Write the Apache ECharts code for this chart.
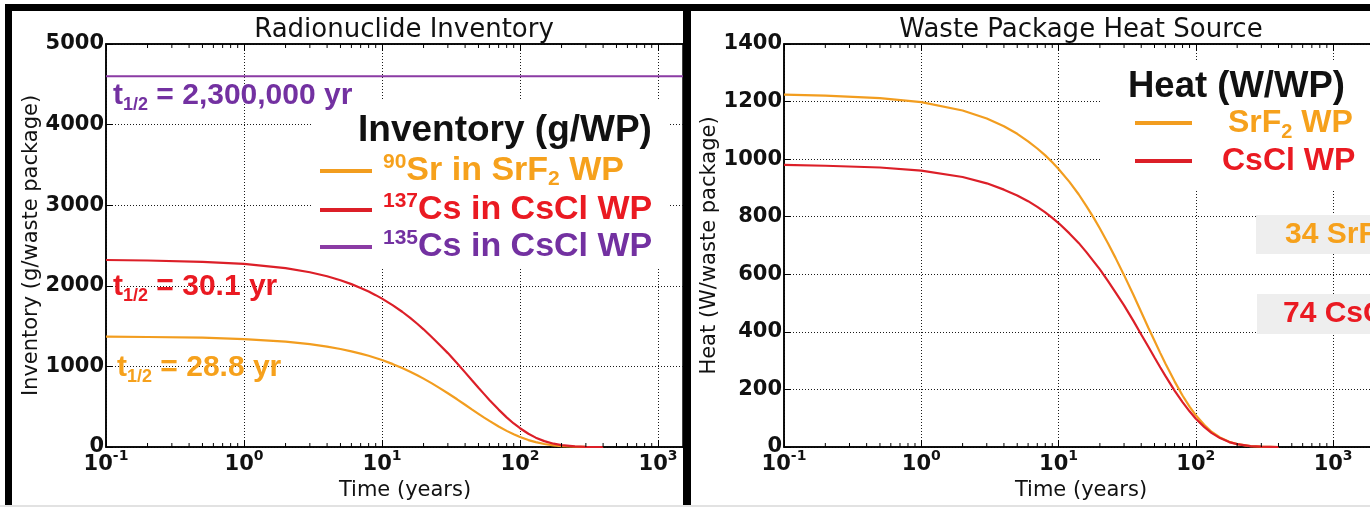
<!DOCTYPE html>
<html>
<head>
<meta charset="utf-8">
<script src="https://cdn.jsdelivr.net/npm/echarts@6/dist/echarts.min.js"></script>
<style>
  html, body { margin: 0; padding: 0; overflow: hidden; background: #fff; width: 1370px; height: 508px; }
  #chart { width: 1400px; height: 508px; }
</style>
</head>
<body>
<div id="chart"></div>
<script>
// Sample times (years) shared by the decay curves
const years = [0.1, 0.2, 0.5, 1, 2, 3, 4, 5, 6, 7, 8, 9, 10, 12, 14, 16, 18, 20, 23, 26, 30, 35, 40, 45, 50, 55, 60, 70, 80, 90, 100, 115, 130, 150, 175, 200, 250, 300, 400];
// Radionuclide inventory, g per waste package
const sr90Inventory  = [1369, 1365, 1356, 1339, 1307, 1276, 1246, 1216, 1187, 1159, 1132, 1105, 1079, 1028, 980, 934, 890, 848, 789, 734, 667, 592, 524, 464, 412, 365, 324, 254, 200, 157, 123, 86, 60, 37, 21, 11, 3, 1, 0];
const cs137Inventory = [2320, 2314, 2298, 2272, 2219, 2168, 2118, 2069, 2021, 1974, 1929, 1884, 1841, 1757, 1678, 1601, 1529, 1460, 1362, 1272, 1165, 1039, 926, 825, 735, 656, 584, 464, 368, 292, 233, 164, 116, 73, 41, 23, 7, 2, 0];
const cs135Years     = [0.1, 1, 10, 100, 1000, 3000];
const cs135Inventory = [4600, 4600, 4600, 4600, 4600, 4600];
// Heat source, W per waste package
const srf2Heat = [1224, 1221, 1212, 1198, 1169, 1141, 1114, 1088, 1062, 1037, 1013, 989, 966, 921, 878, 836, 797, 759, 706, 657, 597, 530, 469, 415, 369, 327, 290, 228, 179, 140, 110, 77, 53, 33, 18, 10, 3, 1, 0];
const csclHeat = [980, 977, 971, 960, 938, 916, 894, 874, 854, 834, 815, 796, 778, 742, 709, 676, 645, 617, 575, 537, 492, 439, 391, 349, 311, 277, 247, 196, 156, 124, 98, 70, 49, 31, 17, 10, 3, 1, 0];
// Axis ticks
const decadeExponents = [-1, 0, 1, 2, 3];
const minorTickYears = [0.2, 0.3, 0.4, 0.5, 0.6, 0.7, 0.8, 0.9, 2, 3, 4, 5, 6, 7, 8, 9,
  20, 30, 40, 50, 60, 70, 80, 90, 200, 300, 400, 500, 600, 700, 800, 900, 2000];
const inventoryTicks = { min: 0, max: 5000, step: 1000 };
const heatTicks = { min: 0, max: 1400, step: 200 };

const ORANGE = '#f29d1f', RED = '#dc1f28', PURPLE = '#8b3ba4';
const ORANGE_T = '#f6a11c', RED_T = '#ea1a22', PURPLE_T = '#7331a1';
const SANS = 'Liberation Sans, Arial, sans-serif';
const MPL = 'DejaVu Sans, sans-serif';

const zip = (xs, ys) => xs.map((x, i) => [x, ys[i]]);

function decadeLabel(v) {
  const lg = Math.log10(v);
  const e = Math.round(lg);
  if (Math.abs(lg - e) > 1e-6 || decadeExponents.indexOf(e) < 0) return '';
  return '{b|10}{e|' + e + '}';
}

function bottomAxis(gridIndex, max, namePad) {
  return {
    type: 'log', logBase: 10, gridIndex, min: 0.1, max,
    name: 'Time (years)', nameLocation: 'middle', nameGap: 33,
    nameTextStyle: { fontFamily: MPL, fontSize: 21, color: '#111', padding: [0, 0, 0, namePad] },
    axisLine: { show: true, onZero: false, lineStyle: { color: '#000', width: 1.5 } },
    axisTick: { show: true, inside: true, length: 7, lineStyle: { color: '#000', width: 1 } },
    axisLabel: {
      margin: 2, formatter: decadeLabel, showMaxLabel: false,
      rich: {
        b: { fontFamily: MPL, fontWeight: 'bold', fontSize: 21, lineHeight: 32, color: '#111' },
        e: { fontFamily: MPL, fontWeight: 'bold', fontSize: 14, lineHeight: 12, verticalAlign: 'top', color: '#111' }
      }
    },
    splitLine: { show: true, lineStyle: { color: '#1a1a1a', type: [1, 2], width: 1 } }
  };
}

function topAxis(gridIndex, max) {
  return {
    type: 'log', logBase: 10, gridIndex, min: 0.1, max, position: 'top',
    axisLine: { show: true, onZero: false, lineStyle: { color: '#000', width: 1.5 } },
    axisTick: { show: true, inside: true, length: 7, lineStyle: { color: '#000', width: 1 } },
    axisLabel: { show: false },
    splitLine: { show: false }
  };
}

function valueAxis(gridIndex, ticks, name, gap) {
  return {
    type: 'value', gridIndex, min: ticks.min, max: ticks.max, interval: ticks.step,
    name, nameLocation: 'middle', nameGap: gap, nameRotate: 90,
    nameTextStyle: { fontFamily: MPL, fontSize: 21, color: '#111' },
    axisLine: { show: true, lineStyle: { color: '#000', width: 1.5 } },
    axisTick: { show: true, inside: true, length: 7, lineStyle: { color: '#000', width: 1 } },
    axisLabel: { margin: 2, fontFamily: MPL, fontWeight: 'bold', fontSize: 21, color: '#111', formatter: v => String(v) },
    splitLine: { show: true, lineStyle: { color: '#1a1a1a', type: [1, 2], width: 1 } }
  };
}

function curve(name, xAxisIndex, yAxisIndex, data, color) {
  return {
    name, type: 'line', xAxisIndex, yAxisIndex, data,
    symbol: 'none', showSymbol: false, smooth: false, clip: true,
    lineStyle: { color, width: 2.2 }, itemStyle: { color }, z: 2, silent: true
  };
}

function minorTicks(xAxisIndex, yAxisIndex) {
  return {
    type: 'custom', xAxisIndex, yAxisIndex, silent: true, z: 3, clip: true,
    data: minorTickYears.map(v => [v, 0]),
    renderItem(params, api) {
      const x = api.coord([api.value(0), 0])[0];
      const cs = params.coordSys;
      const st = { stroke: '#000', lineWidth: 1 };
      return {
        type: 'group', children: [
          { type: 'line', shape: { x1: x, y1: cs.y + cs.height, x2: x, y2: cs.y + cs.height - 4 }, style: st },
          { type: 'line', shape: { x1: x, y1: cs.y, x2: x, y2: cs.y + 4 }, style: st }
        ]
      };
    }
  };
}

function richSet(prefix, color, main, small) {
  const o = {};
  o[prefix + 'm'] = { fontFamily: SANS, fontWeight: 'bold', fontSize: main, lineHeight: 38, color };
  o[prefix + 'sup'] = { fontFamily: SANS, fontWeight: 'bold', fontSize: small, lineHeight: 19, verticalAlign: 'top', color };
  o[prefix + 'sub'] = { fontFamily: SANS, fontWeight: 'bold', fontSize: small, lineHeight: 19, verticalAlign: 'bottom', color };
  return o;
}

const inventoryLegendText = {
  '90Sr in SrF2 WP': '{g|}{osup|90}{om|Sr in SrF}{osub|2}{om| WP}',
  '137Cs in CsCl WP': '{g|}{rsup|137}{rm|Cs in CsCl WP}',
  '135Cs in CsCl WP': '{g|}{psup|135}{pm|Cs in CsCl WP}'
};
const heatLegendText = {
  'SrF2 WP': '{g1|}{om|SrF}{osub|2}{om| WP}',
  'CsCl WP': '{g2|}{rm|CsCl WP}'
};

function halfLife(color, rest) {
  return {
    text: '{t|t}{s|1/2}{t|' + rest + '}',
    rich: {
      t: { fontFamily: SANS, fontWeight: 'bold', fontSize: 30, lineHeight: 36, fill: color },
      s: { fontFamily: SANS, fontWeight: 'bold', fontSize: 18, lineHeight: 19, verticalAlign: 'bottom', fill: color }
    },
    fill: color, align: 'left', verticalAlign: 'middle'
  };
}

const chart = echarts.init(document.getElementById('chart'), null, { renderer: 'canvas' });

chart.setOption({
  animation: false,
  backgroundColor: '#ffffff',
  grid: [
    { left: 106, right: 1400 - 683, top: 44, bottom: 508 - 447, show: true, borderColor: '#000', borderWidth: 1.5, backgroundColor: 'transparent' },
    { left: 784, right: 1400 - 1378, top: 44, bottom: 508 - 447, show: true, borderColor: '#000', borderWidth: 1.5, backgroundColor: 'transparent' }
  ],
  xAxis: [
    bottomAxis(0, 1517, 21),
    topAxis(0, 1517),
    bottomAxis(1, 2123, 0),
    topAxis(1, 2123)
  ],
  yAxis: [
    valueAxis(0, inventoryTicks, 'Inventory (g/waste package)', 58),
    valueAxis(1, heatTicks, 'Heat (W/waste package)', 61)
  ],
  legend: [
    {
      orient: 'vertical', left: 315, top: 147, padding: 5, itemWidth: 52, itemHeight: 4, itemGap: 1,
      icon: 'rect', selectedMode: false, z: 6,
      data: ['90Sr in SrF2 WP', '137Cs in CsCl WP', '135Cs in CsCl WP'],
      formatter: n => inventoryLegendText[n],
      textStyle: {
        rich: Object.assign({ g: { width: 6 } },
          richSet('o', ORANGE_T, 34, 21), richSet('r', RED_T, 34, 21), richSet('p', PURPLE_T, 34, 21))
      }
    },
    {
      orient: 'vertical', left: 1130, top: 102, padding: 5, itemWidth: 57, itemHeight: 4, itemGap: 3,
      icon: 'rect', selectedMode: false, z: 6,
      data: ['SrF2 WP', 'CsCl WP'],
      formatter: n => heatLegendText[n],
      textStyle: {
        rich: Object.assign({ g1: { width: 31 }, g2: { width: 25 } },
          richSet('o', ORANGE_T, 32, 20), richSet('r', RED_T, 32, 20))
      }
    }
  ],
  series: [
    curve('135Cs in CsCl WP', 0, 0, zip(cs135Years, cs135Inventory), PURPLE),
    curve('90Sr in SrF2 WP', 0, 0, zip(years, sr90Inventory), ORANGE),
    curve('137Cs in CsCl WP', 0, 0, zip(years, cs137Inventory), RED),
    curve('SrF2 WP', 2, 1, zip(years, srf2Heat), ORANGE),
    curve('CsCl WP', 2, 1, zip(years, csclHeat), RED),
    minorTicks(0, 0),
    minorTicks(2, 1)
  ],
  graphic: [
    // panel titles
    { type: 'text', x: 404, y: 30, z: 6, style: { text: 'Radionuclide Inventory', fontFamily: MPL, fontSize: 26, fill: '#111', align: 'center', verticalAlign: 'middle' } },
    { type: 'text', x: 1081, y: 30, z: 6, style: { text: 'Waste Package Heat Source', fontFamily: MPL, fontSize: 26, fill: '#111', align: 'center', verticalAlign: 'middle' } },
    // legend backdrops
    { type: 'rect', shape: { x: 312, y: 99, width: 356, height: 168 }, style: { fill: '#ffffff' }, z: 4, silent: true },
    { type: 'rect', shape: { x: 1100, y: 61, width: 290, height: 129 }, style: { fill: '#ffffff' }, z: 4, silent: true },
    // legend titles
    { type: 'text', x: 358, y: 131, z: 6, style: { text: 'Inventory (g/WP)', fontFamily: SANS, fontWeight: 'bold', fontSize: 37, fill: '#111', align: 'left', verticalAlign: 'middle' } },
    { type: 'text', x: 1128, y: 87, z: 6, style: { text: 'Heat (W/WP)', fontFamily: SANS, fontWeight: 'bold', fontSize: 36.5, fill: '#111', align: 'left', verticalAlign: 'middle' } },
    // half-life notes
    { type: 'text', x: 113, y: 96, z: 6, style: halfLife(PURPLE_T, ' = 2,300,000 yr') },
    { type: 'text', x: 113, y: 287, z: 6, style: halfLife(RED_T, ' = 30.1 yr') },
    { type: 'text', x: 117, y: 368, z: 6, style: halfLife(ORANGE_T, ' = 28.8 yr') },
    // package count callouts
    { type: 'rect', shape: { x: 1256, y: 215, width: 200, height: 39 }, style: { fill: '#eeeeee' }, z: 4, silent: true },
    { type: 'rect', shape: { x: 1257, y: 294, width: 200, height: 40 }, style: { fill: '#eeeeee' }, z: 4, silent: true },
    { type: 'text', x: 1285, y: 235, z: 6, style: { text: '{m|34 SrF}{s|2}{m| WPs}', rich: { m: { fontFamily: SANS, fontWeight: 'bold', fontSize: 30, lineHeight: 36, fill: ORANGE_T }, s: { fontFamily: SANS, fontWeight: 'bold', fontSize: 18, lineHeight: 19, verticalAlign: 'bottom', fill: ORANGE_T } }, fill: ORANGE_T, align: 'left', verticalAlign: 'middle' } },
    { type: 'text', x: 1283, y: 314, z: 6, style: { text: '74 CsCl WPs', fontFamily: SANS, fontWeight: 'bold', fontSize: 30, fill: RED_T, align: 'left', verticalAlign: 'middle' } },
    // panel frame
    { type: 'rect', shape: { x: 5, y: 4, width: 1400, height: 7 }, style: { fill: '#000' }, z: 20, silent: true },
    { type: 'rect', shape: { x: 5, y: 4, width: 7, height: 502 }, style: { fill: '#000' }, z: 20, silent: true },
    { type: 'rect', shape: { x: 683, y: 4, width: 8, height: 502 }, style: { fill: '#000' }, z: 20, silent: true },
    { type: 'rect', shape: { x: 0, y: 505, width: 1400, height: 2 }, style: { fill: '#e2e2e2' }, z: 20, silent: true }
  ]
});
</script>
</body>
</html>
